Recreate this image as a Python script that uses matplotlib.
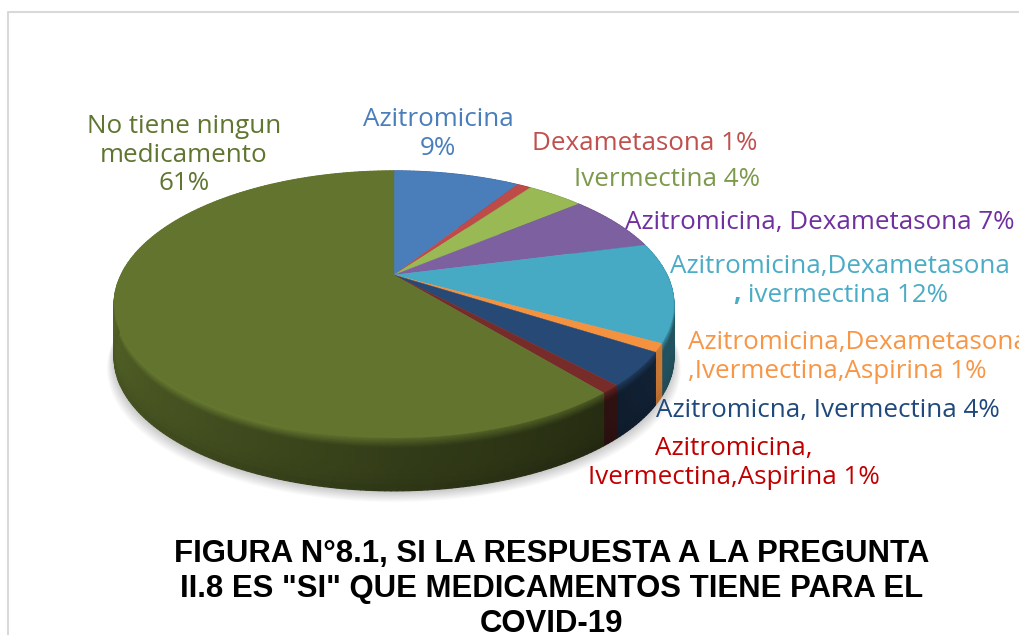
import numpy as np
import matplotlib
matplotlib.use("Agg")
import matplotlib.pyplot as plt
from matplotlib.collections import PolyCollection
from matplotlib.patches import Polygon

categories = [
    "Azitromicina",
    "Dexametasona",
    "Ivermectina",
    "Azitromicina, Dexametasona",
    "Azitromicina,Dexametasona, ivermectina",
    "Azitromicina,Dexametasona,Ivermectina,Aspirina",
    "Azitromicna, Ivermectina",
    "Azitromicina, Ivermectina,Aspirina",
    "No tiene ningun medicamento",
]
values = [9, 1, 4, 7, 12, 1, 4, 1, 61]
slice_colors = ["#4a7ebb", "#be4b48", "#98b954", "#7d60a0", "#46aac5", "#f59240", "#264a75", "#772c2a", "#62742e"]
title = 'FIGURA N°8.1, SI LA RESPUESTA A LA PREGUNTA\nII.8 ES "SI" QUE MEDICAMENTOS TIENE PARA EL\nCOVID-19'

# pie geometry in pixels, PowerPoint style perspective
CX, CY = 394, 275
A, B, K = 273, 127, 0.22
DEPTH = 53
BEVEL = 0.2


def project(theta_deg, scale=1.0):
    t = np.radians(theta_deg)
    x, y = np.sin(t) * scale, np.cos(t) * scale
    w = 1 + K * y
    return CX + A * x / w, CY - B * y / w


def side_shade(theta):
    return np.interp(theta, [90, 118, 140, 180, 220, 270, 360], [0.5, 0.48, 0.38, 0.52, 0.7, 0.88, 0.88])


def bevel_shade(theta):
    return np.interp(theta, [90, 140, 180, 200, 360], [0.9, 0.8, 0.92, 1.1, 1.1])


fig = plt.figure(figsize=(10.19, 6.35), dpi=100)
ax = fig.add_axes([0, 0, 1, 1])
ax.set_xlim(0, 1019)
ax.set_ylim(635, 0)
ax.axis("off")

# chart frame
ax.plot([8, 8, 1019], [635, 12, 12], color="#d9d9d9", lw=1.5, zorder=1)

# soft shadow under the pie
ring = np.arange(0, 360, 2.0)
for i in range(14):
    sx, sy = project(ring)
    sx = CX + (sx - CX) * (1 + i * 0.002)
    sy = sy + DEPTH + 1 + i * 0.8
    ax.add_patch(Polygon(np.c_[sx, sy], closed=True, fc="black", ec="none", alpha=0.014, zorder=2))

edges = np.r_[0, np.cumsum(values)] / np.sum(values) * 360.0
side_mult = [1, 1, 1, 1, 1, 1.75, 1, 1, 1]

# side wall, strips of small quads for the shading
quads, quad_colors = [], []
bands = np.r_[np.linspace(0, BEVEL, 7), np.linspace(BEVEL, 1, 9)[1:]]
for i, col in enumerate(slice_colors):
    base = np.array(matplotlib.colors.to_rgb(col))
    n = max(int(edges[i + 1] - edges[i]), 2)
    angs = np.linspace(edges[i], edges[i + 1], n + 1)
    for a0, a1 in zip(angs[:-1], angs[1:]):
        x0, y0 = project(a0)
        x1, y1 = project(a1)
        mid = (a0 + a1) / 2
        for v0, v1 in zip(bands[:-1], bands[1:]):
            vm = (v0 + v1) / 2
            sh = side_shade(mid) * side_mult[i]
            if vm < BEVEL:
                f = bevel_shade(mid) + (sh - bevel_shade(mid)) * (vm / BEVEL)
            else:
                f = sh * (1 - 0.12 * ((vm - BEVEL) / (1 - BEVEL)) ** 4)
            quads.append([(x0, y0 + DEPTH * v0), (x1, y1 + DEPTH * v0), (x1, y1 + DEPTH * v1), (x0, y0 + DEPTH * v1)])
            quad_colors.append(np.clip(base * f, 0, 1))
ax.add_collection(PolyCollection(quads, facecolors=quad_colors, edgecolors=quad_colors, linewidths=0.9, zorder=3))

# top face
for i, col in enumerate(slice_colors):
    angs = np.linspace(edges[i], edges[i + 1], max(int(edges[i + 1] - edges[i]) * 2, 4))
    px, py = project(angs)
    pts = np.r_[[[CX, CY]], np.c_[px, py]]
    ax.add_patch(Polygon(pts, closed=True, fc=col, ec=col, lw=0.3, zorder=4))

# data labels
font = "Open Sans"
fs = 18.7
labels = [
    ("Azitromicina\n9%", 438, 134, slice_colors[0]),
    ("Dexametasona 1%", 645, 144, "#c0504d"),
    ("Ivermectina 4%", 667, 180, "#7c9a4b"),
    ("Azitromicina, Dexametasona 7%", 820, 223, "#7030a0"),
    ("Azitromicina,Dexametasona", 840, 266, "#4bacc6"),
    ("ivermectina 12%", 848, 296, "#4bacc6"),
    ("Azitromicina,Dexametasona\n,Ivermectina,Aspirina 1%", 688, 357, "#f79646"),
    ("Azitromicna, Ivermectina 4%", 828, 410, "#1f497d"),
    ("Azitromicina,\nIvermectina,Aspirina 1%", 734, 463, "#c00000"),
    ("No tiene ningun\nmedicamento\n61%", 184, 155, "#5f7530"),
]
for i, (txt, x, y, c) in enumerate(labels):
    ha = "left" if i == 6 else "center"
    ax.text(x, y, txt, color=c, family=font, fontsize=fs, ha=ha, va="center",
            linespacing=1.18, multialignment="left" if i == 6 else "center", zorder=6)
ax.text(737, 294, ",", color="#4bacc6", family=font, fontsize=fs, fontweight="bold", ha="center", va="center", zorder=6)

ax.text(552, 589, title, family="Liberation Sans", fontsize=22.4, fontweight="bold", color="black",
        ha="center", va="center", linespacing=1.22, zorder=6)

fig.savefig("out.png", dpi=100)
